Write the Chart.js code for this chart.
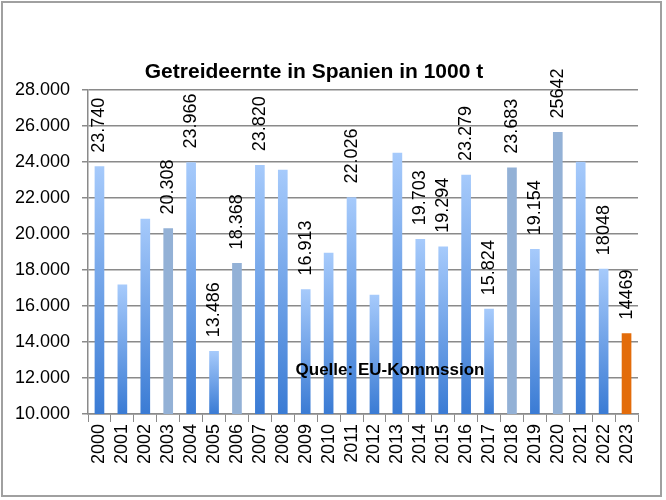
<!DOCTYPE html>
<html>
<head>
<meta charset="utf-8">
<script src="https://cdn.jsdelivr.net/npm/chart.js@4"></script>
<style>
  body { margin: 0; background: #fff; }
  canvas { display: block; }
</style>
</head>
<body>
<canvas id="ernteChart" width="666" height="500"></canvas>
<script>
const years = ['2000', '2001', '2002', '2003', '2004', '2005', '2006', '2007', '2008', '2009', '2010', '2011',
               '2012', '2013', '2014', '2015', '2016', '2017', '2018', '2019', '2020', '2021', '2022', '2023'];
const harvest = [23740, 17170, 20830, 20308, 23966, 13486, 18368, 23820, 23550, 16913, 18940, 22026,
                 16610, 24500, 19703, 19294, 23279, 15824, 23683, 19154, 25642, 24000, 18048, 14469];
const valueLabels = ['23.740', null, null, '20.308', '23.966', '13.486', '18.368', '23.820', null, '16.913', null, '22.026',
                     null, null, '19.703', '19.294', '23.279', '15.824', '23.683', '19.154', '25642', null, '18048', '14469'];
// bar fill style: g = blue gradient, f = flat grey-blue, o = orange
const barStyle = ['g', 'g', 'g', 'f', 'g', 'g', 'f', 'g', 'g', 'g', 'g', 'g',
                  'g', 'g', 'g', 'g', 'g', 'g', 'f', 'g', 'f', 'g', 'g', 'o'];
const yTicks = [10000, 12000, 14000, 16000, 18000, 20000, 22000, 24000, 26000, 28000];

const FONT = "'Liberation Sans', Arial, sans-serif";

function fmt(v) {
    return v.toLocaleString('de-DE');
}

function barColor(ctx) {
    const chart = ctx.chart;
    const area = chart.chartArea;
    if (!area) return '#7fa9e6';
    const style = barStyle[ctx.dataIndex];
    if (style === 'f') return '#93b1d6';
    if (style === 'o') return '#e36c0a';
    const top = chart.scales.y.getPixelForValue(harvest[ctx.dataIndex]);
    const g = chart.ctx.createLinearGradient(0, top, 0, area.bottom);
    g.addColorStop(0, '#a6cafb');
    g.addColorStop(1, '#3a7bd4');
    return g;
}

// title, source note, value labels and outer frame
const extras = {
    id: 'extras',
    afterDatasetsDraw(chart) {
        const c = chart.ctx;
        const meta = chart.getDatasetMeta(0);
        c.save();
        c.fillStyle = '#000';
        c.font = '18px ' + FONT;
        c.textAlign = 'left';
        c.textBaseline = 'middle';
        meta.data.forEach((bar, i) => {
            if (!valueLabels[i]) return;
            c.save();
            c.translate(bar.x, bar.y - 14);
            c.rotate(-Math.PI / 2);
            c.fillText(valueLabels[i], 0, 0);
            c.restore();
        });

        c.textAlign = 'center';
        c.font = 'bold 21px ' + FONT;
        c.fillText('Getreideernte in Spanien in 1000 t', 314, 72);
        c.font = 'bold 17px ' + FONT;
        c.fillText('Quelle: EU-Kommssion', 390, 370);

        c.strokeStyle = '#a0a0a0';
        c.lineWidth = 2;
        c.strokeRect(2, 2, 659, 494);
        c.restore();
    }
};

new Chart(document.getElementById('ernteChart'), {
    type: 'bar',
    data: {
        labels: years,
        datasets: [{
            data: harvest,
            backgroundColor: barColor,
            barThickness: 9
        }]
    },
    options: {
        responsive: false,
        animation: false,
        layout: { padding: { left: 10, right: 28, top: 90, bottom: 26 } },
        plugins: {
            legend: { display: false },
            tooltip: { enabled: false }
        },
        scales: {
            x: {
                afterFit(s) { s.height = 60; },
                grid: {
                    offset: true,
                    drawOnChartArea: false,
                    drawTicks: true,
                    tickLength: 8,
                    color: '#8a8a8a'
                },
                border: { color: '#8a8a8a', width: 1.5 },
                ticks: {
                    color: '#000',
                    font: { family: FONT, size: 18 },
                    minRotation: 90,
                    maxRotation: 90,
                    autoSkip: false,
                    padding: 2
                }
            },
            y: {
                min: 10000,
                max: 28000,
                afterFit(s) { s.width = 78; },
                afterBuildTicks(s) { s.ticks = yTicks.map(v => ({ value: v })); },
                grid: { color: '#8a8a8a', lineWidth: 1.5, tickLength: 6 },
                border: { color: '#8a8a8a', width: 1.5 },
                ticks: {
                    color: '#000',
                    font: { family: FONT, size: 18 },
                    padding: 12,
                    callback: v => fmt(v)
                }
            }
        }
    },
    plugins: [extras]
});
</script>
</body>
</html>
